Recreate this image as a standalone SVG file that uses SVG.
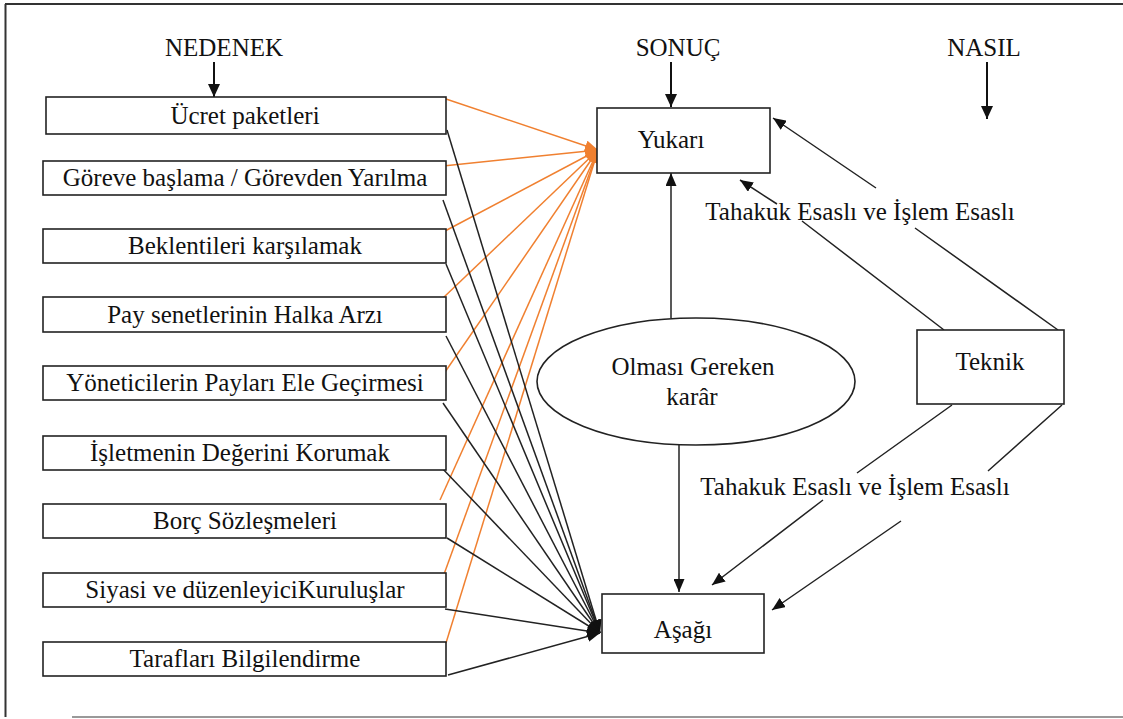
<svg xmlns="http://www.w3.org/2000/svg" width="1123" height="719" viewBox="0 0 1123 719">
<defs>
<style>
text{font-size:25px;fill:#111;}
.c{text-anchor:middle;}
.box{fill:#fff;stroke:#222;stroke-width:1.6;}
.or{stroke:#F08030;stroke-width:1.5;fill:none;}
.bk{stroke:#222;stroke-width:1.5;fill:none;}
.ar{stroke:#111;stroke-width:2;fill:none;}
</style>
<marker id="ah" markerUnits="userSpaceOnUse" markerWidth="13" markerHeight="12" refX="13" refY="6" orient="auto"><path d="M0,0 L13,6 L0,12 z" fill="#111"/></marker>
<marker id="ahs" markerUnits="userSpaceOnUse" markerWidth="13" markerHeight="11" refX="13" refY="5.5" orient="auto"><path d="M0,0 L13,5.5 L0,11 z" fill="#111"/></marker>
<marker id="ao" markerUnits="userSpaceOnUse" markerWidth="13" markerHeight="11" refX="13" refY="5.5" orient="auto"><path d="M0,0 L13,5.5 L0,11 z" fill="#F08030"/></marker>
</defs>
<rect width="1123" height="719" fill="#fff"/>
<g font-family="'Liberation Serif', 'DejaVu Serif', serif">
<g id="frame">
<line x1="5" y1="4" x2="1123" y2="4" stroke="#333" stroke-width="2"/>
<line x1="5.5" y1="4" x2="5.5" y2="717" stroke="#333" stroke-width="2"/>
<line x1="72" y1="717" x2="1123" y2="717" stroke="#999" stroke-width="2"/>
</g>
<g id="headers">
<text class="c" x="224" y="56">NEDENEK</text>
<text class="c" x="678" y="56">SONUÇ</text>
<text class="c" x="984" y="56">NASIL</text>
</g>
<g id="connectors">
<line class="ar" x1="214" y1="62" x2="214" y2="97" marker-end="url(#ah)"/>
<line class="ar" x1="671" y1="62" x2="671" y2="107" marker-end="url(#ah)"/>
<line class="ar" x1="987" y1="62" x2="987" y2="119" marker-end="url(#ah)"/>
<line class="bk" x1="671" y1="318" x2="671" y2="173" marker-end="url(#ahs)"/>
<line class="bk" x1="679" y1="445" x2="679" y2="592" marker-end="url(#ahs)"/>
<g id="orange">
<line class="or" x1="443" y1="98" x2="598" y2="150" marker-end="url(#ao)"/>
<line class="or" x1="443" y1="166" x2="598" y2="150" marker-end="url(#ao)"/>
<line class="or" x1="445" y1="231" x2="598" y2="150" marker-end="url(#ao)"/>
<line class="or" x1="443" y1="298" x2="598" y2="150" marker-end="url(#ao)"/>
<line class="or" x1="443" y1="375" x2="598" y2="150" marker-end="url(#ao)"/>
<line class="or" x1="440" y1="500" x2="598" y2="150" marker-end="url(#ao)"/>
<line class="or" x1="443" y1="577" x2="598" y2="150" marker-end="url(#ao)"/>
<line class="or" x1="446" y1="643" x2="598" y2="150" marker-end="url(#ao)"/>
</g>
<g id="black">
<line class="bk" x1="447" y1="130" x2="600" y2="633" marker-end="url(#ahs)"/>
<line class="bk" x1="443" y1="200" x2="600" y2="633" marker-end="url(#ahs)"/>
<line class="bk" x1="446" y1="264" x2="600" y2="633" marker-end="url(#ahs)"/>
<line class="bk" x1="446" y1="336" x2="600" y2="633" marker-end="url(#ahs)"/>
<line class="bk" x1="443" y1="403" x2="600" y2="633" marker-end="url(#ahs)"/>
<line class="bk" x1="440" y1="466" x2="600" y2="633" marker-end="url(#ahs)"/>
<line class="bk" x1="447" y1="538" x2="600" y2="633" marker-end="url(#ahs)"/>
<line class="bk" x1="445" y1="609" x2="600" y2="633" marker-end="url(#ahs)"/>
<line class="bk" x1="448" y1="675" x2="600" y2="633" marker-end="url(#ahs)"/>
</g>
<g id="teknik-links">
<path class="bk" d="M944,330 L802,221 M777,204 L740,180" marker-end="url(#ahs)"/>
<path class="bk" d="M1058,330 L915,228 M876,188 L773,118" marker-end="url(#ahs)"/>
<path class="bk" d="M952,405 L857,473 M823,500 L712,585" marker-end="url(#ahs)"/>
<path class="bk" d="M1062,405 L988,471 M901,521 L772,610" marker-end="url(#ahs)"/>
</g>
</g>
<g id="n1"><rect class="box" x="46" y="97" width="400" height="37"/><text class="c" x="245" y="124">Ücret paketleri</text></g>
<g id="n2"><rect class="box" x="43" y="161" width="403" height="34"/><text class="c" x="245" y="186">Göreve başlama / Görevden Yarılma</text></g>
<g id="n3"><rect class="box" x="43" y="229" width="403" height="34"/><text class="c" x="245" y="254">Beklentileri karşılamak</text></g>
<g id="n4"><rect class="box" x="43" y="297" width="403" height="35"/><text class="c" x="245" y="323">Pay senetlerinin Halka Arzı</text></g>
<g id="n5"><rect class="box" x="43" y="366" width="403" height="34"/><text class="c" x="245" y="391">Yöneticilerin Payları Ele Geçirmesi</text></g>
<g id="n6"><rect class="box" x="43" y="436" width="403" height="34"/><text class="c" x="240" y="461">İşletmenin Değerini Korumak</text></g>
<g id="n7"><rect class="box" x="43" y="504" width="403" height="34"/><text class="c" x="245" y="529">Borç Sözleşmeleri</text></g>
<g id="n8"><rect class="box" x="43" y="573" width="403" height="34"/><text class="c" x="245" y="598">Siyasi ve düzenleyiciKuruluşlar</text></g>
<g id="n9"><rect class="box" x="43" y="642" width="403" height="34"/><text class="c" x="245" y="667">Tarafları Bilgilendirme</text></g>
<g id="yukari"><rect class="box" x="597" y="108" width="173" height="65"/><text class="c" x="671" y="148">Yukarı</text></g>
<g id="karar"><ellipse cx="696" cy="381.5" rx="159" ry="63.5" fill="#fff" stroke="#222" stroke-width="1.6"/><text class="c" x="693" y="375">Olması Gereken</text><text class="c" x="692" y="405">karâr</text></g>
<g id="teknik"><rect class="box" x="917" y="330" width="147" height="74"/><text class="c" x="990" y="370">Teknik</text></g>
<g id="asagi"><rect class="box" x="602" y="594" width="162" height="59"/><text class="c" x="683" y="638">Aşağı</text></g>
<g id="labels">
<text class="c" x="860" y="220">Tahakuk Esaslı ve İşlem Esaslı</text>
<text class="c" x="855" y="495">Tahakuk Esaslı ve İşlem Esaslı</text>
</g>
</g>
</svg>
